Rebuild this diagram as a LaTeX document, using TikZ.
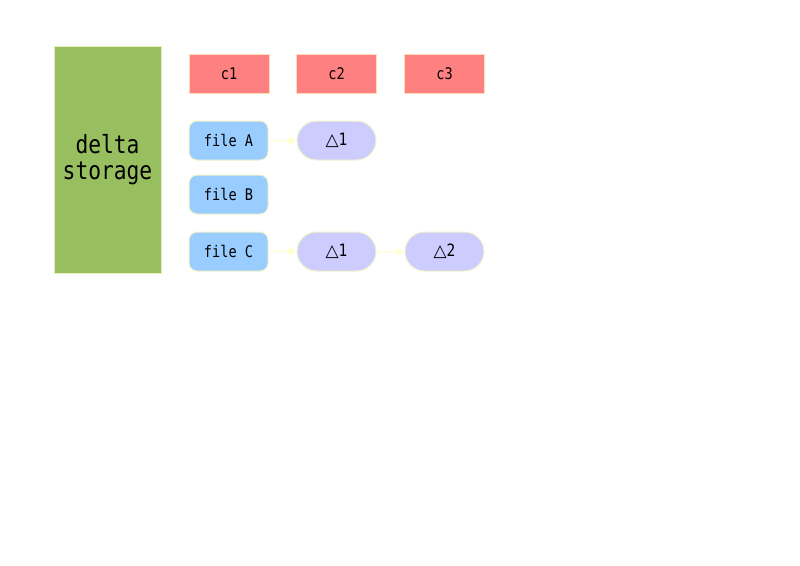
\documentclass[tikz,border=0pt]{standalone}
\usepackage{fontspec}
\setmainfont{DejaVu Sans Mono}[FakeStretch=0.85]
\newfontfamily\symfont{DejaVu Sans}
\usetikzlibrary{arrows.meta,shapes.misc}
\definecolor{greenfill}{HTML}{97BF60}
\definecolor{greenline}{HTML}{E6F2B8}
\definecolor{redfill}{HTML}{FF8080}
\definecolor{redline}{HTML}{FFDDB8}
\definecolor{bluefill}{HTML}{99CCFF}
\definecolor{paleline}{HTML}{F2F4C8}
\definecolor{deltafill}{HTML}{CCCCFF}
\definecolor{arrowcol}{HTML}{FFFFCC}
\newcommand{\tri}{{\symfont\fontsize{17}{18}\selectfont △}}
\tikzset{
  storebox/.style={draw=greenline, fill=greenfill, line width=1pt, minimum width=107pt, minimum height=227pt, inner sep=0pt, align=center, font=\fontsize{25}{26}\selectfont},
  commitbox/.style={draw=redline, fill=redfill, line width=1pt, minimum width=80pt, minimum height=39pt, inner sep=0pt, font=\fontsize{16}{17}\selectfont},
  filebox/.style={draw=paleline, fill=bluefill, line width=1pt, rounded corners=8pt, minimum width=79pt, minimum height=39pt, inner sep=0pt, font=\fontsize{16}{17}\selectfont},
  deltabox/.style={draw=paleline, fill=deltafill, line width=1pt, rounded rectangle, minimum width=79pt, minimum height=39pt, inner sep=0pt, font=\fontsize{17}{18}\selectfont},
  link/.style={draw=arrowcol, line width=1pt, -{Triangle[length=8pt,width=7pt,fill=arrowcol]}}
}
\begin{document}
\begin{tikzpicture}[x=1pt,y=-1pt]
\useasboundingbox (0,0) rectangle (800,565);
\node[storebox] (store) at (107.5,159.5) {delta\\storage};
\node[commitbox] (c1) at (229,73.5) {c1};
\node[commitbox] (c2) at (336.5,73.5) {c2};
\node[commitbox] (c3) at (444.5,73.5) {c3};
\node[filebox] (fa) at (228.5,140.5) {file A};
\node[filebox] (fb) at (228.5,194.5) {file B};
\node[filebox] (fc) at (228.5,251.5) {file C};
\node[deltabox] (da1) at (336.5,140.5) {\tri1};
\node[deltabox] (dc1) at (336.5,251.5) {\tri1};
\node[deltabox] (dc2) at (444.5,251.5) {\tri2};
\draw[link] (fa) -- (da1);
\draw[link] (fc) -- (dc1);
\draw[link] (dc1) -- (dc2);
\end{tikzpicture}
\end{document}
